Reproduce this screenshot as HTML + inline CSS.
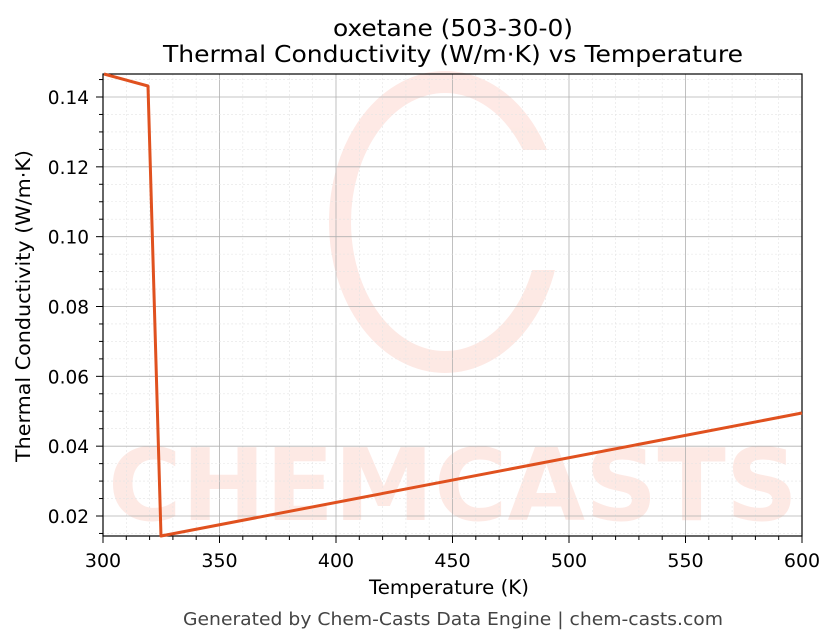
<!DOCTYPE html>
<html><head><meta charset="utf-8"><style>body{margin:0;background:#fff}svg{display:block;font-family:"DejaVu Sans","Liberation Sans",sans-serif}</style></head><body>
<svg width="836" height="644" viewBox="0 0 836 644">
<rect width="836" height="644" fill="#fff"/>
<text x="453" y="36" font-size="23" text-anchor="middle" fill="#000" textLength="240" lengthAdjust="spacingAndGlyphs">oxetane (503-30-0)</text>
<text x="453" y="62" font-size="23" text-anchor="middle" fill="#000" textLength="580" lengthAdjust="spacingAndGlyphs">Thermal Conductivity (W/m·K) vs Temperature</text>
<g opacity="0.7">
<ellipse cx="445" cy="222" rx="105" ry="140" fill="none" stroke="#fde0da" stroke-width="22"/>
<rect x="495" y="150" width="80" height="120" fill="#fff"/>
<text x="453" y="520" font-size="100" font-weight="bold" text-anchor="middle" fill="#fde0da" textLength="690" lengthAdjust="spacingAndGlyphs">CHEMCASTS</text>
</g>
<rect x="103" y="74" width="699" height="462" fill="none" stroke="#000" stroke-width="1.2"/>
<polyline points="104,74 148,86 161,536 802,413" fill="none" stroke="#e0511f" stroke-width="3" stroke-linejoin="round"/>
<text x="449" y="594" font-size="19.5" text-anchor="middle" textLength="160" lengthAdjust="spacingAndGlyphs">Temperature (K)</text>
<text transform="translate(30,306) rotate(-90)" font-size="19.5" text-anchor="middle" textLength="312" lengthAdjust="spacingAndGlyphs">Thermal Conductivity (W/m·K)</text>
<text x="453" y="625" font-size="18" text-anchor="middle" fill="#444" textLength="540" lengthAdjust="spacingAndGlyphs">Generated by Chem-Casts Data Engine | chem-casts.com</text>
</svg>
<script>
const s=document.querySelector('svg'),ns='http://www.w3.org/2000/svg';
function el(t,a,txt){const e=document.createElementNS(ns,t);for(const k in a)e.setAttribute(k,a[k]);if(txt)e.textContent=txt;s.insertBefore(e,s.querySelector('rect[fill=none]'));return e;}
const X=v=>103+(v-300)*699/300, Y=v=>516-(v-0.02)*419/0.12;
for(let v=300;v<=600;v+=10){const x=X(v);const maj=v%50==0;
 el('line',{x1:x,x2:x,y1:74,y2:536,stroke:maj?'#b0b0b0':'#e4e4e4','stroke-width':maj?0.8:0.6,'stroke-dasharray':maj?'':'2,2'});
 el('line',{x1:x,x2:x,y1:536,y2:maj?543:540,stroke:'#000','stroke-width':1});
 if(maj)el('text',{x:x,y:567,'font-size':19,'text-anchor':'middle'},String(v));}
for(let i=3;i<=29;i++){const v=i*0.005;const y=Y(v);if(y<74||y>536)continue;const maj=i%4==0;
 el('line',{x1:103,x2:802,y1:y,y2:y,stroke:maj?'#b0b0b0':'#e4e4e4','stroke-width':maj?0.8:0.6,'stroke-dasharray':maj?'':'2,2'});
 el('line',{x1:maj?96:99,x2:103,y1:y,y2:y,stroke:'#000','stroke-width':1});
 if(maj)el('text',{x:89,y:y+7,'font-size':18.5,'text-anchor':'end'},v.toFixed(2));}
</script>
</body></html>
